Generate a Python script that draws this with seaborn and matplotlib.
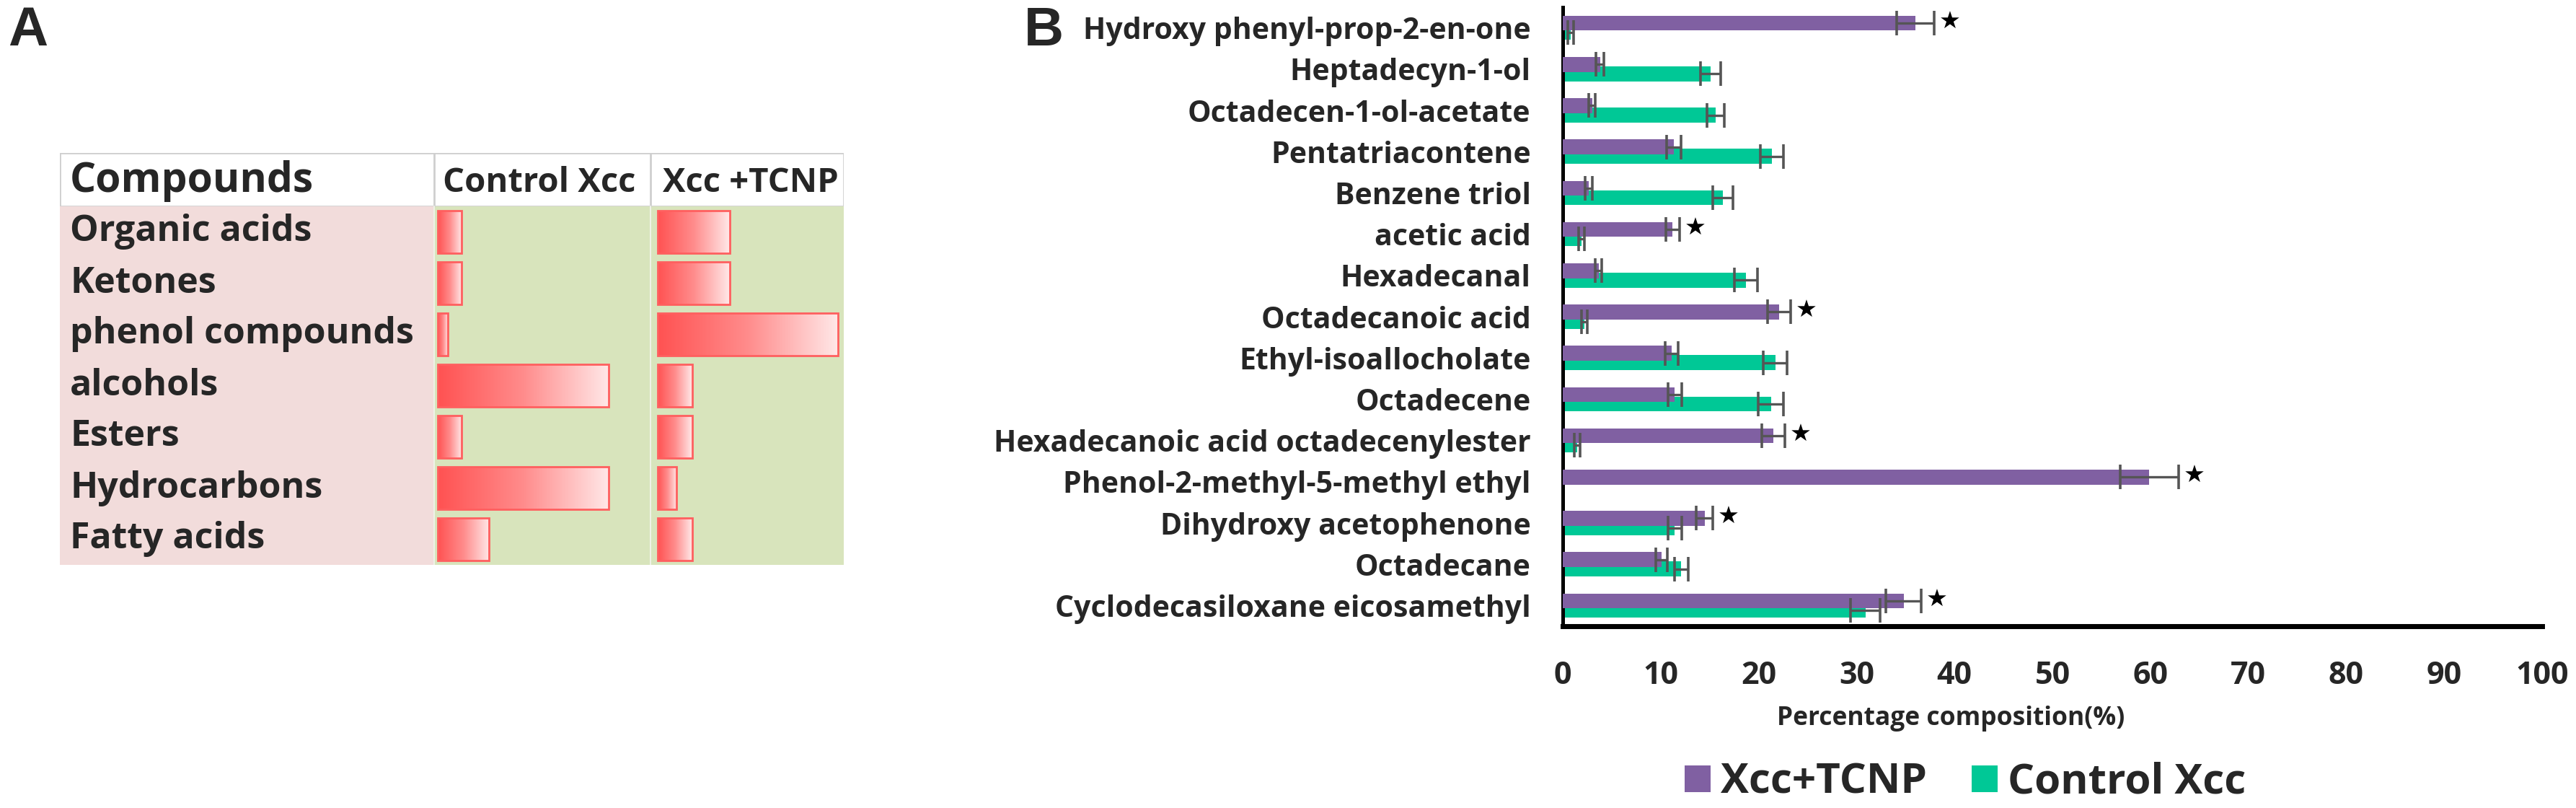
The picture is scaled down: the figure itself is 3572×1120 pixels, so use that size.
import numpy as np
import pandas as pd
import matplotlib
matplotlib.use("Agg")
import matplotlib.pyplot as plt
import seaborn as sns
from matplotlib.colors import LinearSegmentedColormap
from matplotlib.patches import Rectangle, Patch

# ---------------- data: panel A (relative data-bar lengths per column) ----------------
classes = ["Organic acids", "Ketones", "phenol compounds", "alcohols",
           "Esters", "Hydrocarbons", "Fatty acids"]
control_rel = [14, 14, 6, 100, 14, 100, 30]
tcnp_rel = [40, 40, 100, 19, 19, 10.5, 19]
table_headers = ["Compounds", "Control Xcc", "Xcc +TCNP"]

# ---------------- data: panel B ----------------
compounds = [
    "Hydroxy phenyl-prop-2-en-one",
    "Heptadecyn-1-ol",
    "Octadecen-1-ol-acetate",
    "Pentatriacontene",
    "Benzene triol",
    "acetic acid",
    "Hexadecanal",
    "Octadecanoic acid",
    "Ethyl-isoallocholate",
    "Octadecene",
    "Hexadecanoic acid octadecenylester",
    "Phenol-2-methyl-5-methyl ethyl",
    "Dihydroxy acetophenone",
    "Octadecane",
    "Cyclodecasiloxane eicosamethyl",
]
tcnp_vals = [36.0, 3.8, 3.0, 11.35, 2.65, 11.2, 3.65, 22.1, 11.1, 11.45, 21.5, 59.9, 14.5, 10.1, 34.8]
tcnp_err = [1.9, 0.4, 0.35, 0.75, 0.35, 0.7, 0.35, 1.2, 0.65, 0.7, 1.15, 3.0, 0.85, 0.6, 1.8]
ctrl_vals = [0.8, 15.1, 15.6, 21.35, 16.35, 1.9, 18.7, 2.2, 21.7, 21.25, 1.5, 0.0, 11.45, 12.1, 30.9]
ctrl_err = [0.3, 1.0, 0.9, 1.15, 1.0, 0.3, 1.15, 0.3, 1.2, 1.3, 0.3, 0.0, 0.7, 0.7, 1.5]
significant = [True, False, False, False, False, True, False, True, False, False,
               True, True, True, False, True]
group_names = ["Xcc+TCNP", "Control Xcc"]
x_ticks = list(range(0, 101, 10))
x_label = "Percentage composition(%)"

# ---------------- style ----------------
sns.set_style("white")
plt.rcParams["font.family"] = ["Open Sans", "DejaVu Sans"]

PURPLE = "#8060a2"
GREEN = "#00c896"
ERR = "#555555"

W, H = 3572, 1120
fig = plt.figure(figsize=(W / 100, H / 100), dpi=100)


def rect(x0, y0, x1, y1):
    return [x0 / W, 1 - y1 / H, (x1 - x0) / W, (y1 - y0) / H]


# ======================= Panel A =======================
fig.text(11 / W, 1 - 8 / H, "A", fontsize=55, fontweight="bold", va="top", ha="left",
         family=["Liberation Sans", "DejaVu Sans"])

T_L, T_T, T_R, T_B = 83, 212, 1170, 783
HDR_B = 286
C1, C2 = 602, 902
row_h = (T_B - HDR_B) / len(classes)

ax_tab = fig.add_axes(rect(T_L, T_T, T_R, T_B))
ax_tab.set_xlim(T_L, T_R)
ax_tab.set_ylim(T_B, T_T)
ax_tab.axis("off")
ax_tab.add_patch(Rectangle((T_L, T_T), T_R - T_L, HDR_B - T_T, fc="white", ec="#cfcfcf", lw=2))
ax_tab.add_patch(Rectangle((T_L, HDR_B), C1 - T_L, T_B - HDR_B, fc="#f2dcdb", ec="none"))
ax_tab.add_patch(Rectangle((C1, HDR_B), T_R - C1, T_B - HDR_B, fc="#d8e4bc", ec="none"))
for cx in (C1, C2):
    ax_tab.plot([cx, cx], [T_T, HDR_B], color="#cfcfcf", lw=2)
    ax_tab.plot([cx, cx], [HDR_B, T_B], color="#eef2e6", lw=1.5)

hdr_y = (T_T + HDR_B) / 2
ax_tab.text(97, hdr_y + 2, table_headers[0], fontsize=41, fontweight="bold", va="center", ha="left")
ax_tab.text(614, hdr_y + 4, table_headers[1], fontsize=34, fontweight="bold", va="center", ha="left")
ax_tab.text(919, hdr_y + 4, table_headers[2], fontsize=34, fontweight="bold", va="center", ha="left")
for i, name in enumerate(classes):
    ax_tab.text(97, HDR_B + row_h * (i + 0.5), name, fontsize=36, fontweight="bold",
                va="center", ha="left")

cmap = LinearSegmentedColormap.from_list("redgrad", ["#ff5252", "#ff8c8c", "#ffe8e8"])
grad = np.linspace(0, 1, 256).reshape(1, -1)


def data_bars(ax, vals, start_px, col_l, col_r, px_per_unit):
    dfa = pd.DataFrame({"cls": classes, "v": vals})
    sns.barplot(data=dfa, x="v", y="cls", order=classes, ax=ax, width=0.83,
                color="#ff5252", saturation=1, errorbar=None)
    xl = (-(start_px - col_l) / px_per_unit, (col_r - start_px) / px_per_unit)
    for p in ax.patches:
        x0, y0, w, h = p.get_x(), p.get_y(), p.get_width(), p.get_height()
        ax.imshow(grad, extent=[x0, x0 + w, y0 + h, y0], cmap=cmap, aspect="auto",
                  zorder=2, interpolation="bilinear")
        p.set_facecolor("none")
        p.set_edgecolor("#ff5f5f")
        p.set_linewidth(2)
        p.set_zorder(3)
    ax.set_xlim(*xl)
    ax.set_ylim(len(classes) - 0.5, -0.5)
    ax.axis("off")
    ax.patch.set_alpha(0)


ax_c = fig.add_axes(rect(C1, HDR_B, C2 + 3, T_B))
data_bars(ax_c, control_rel, 607, C1, C2 + 3, 2.37)
ax_t = fig.add_axes(rect(C2, HDR_B, T_R, T_B))
data_bars(ax_t, tcnp_rel, 912, C2, T_R, 2.5)

# ======================= Panel B =======================
fig.text(1420 / W, 1 - 8 / H, "B", fontsize=55, fontweight="bold", va="top", ha="left",
         family=["Liberation Sans", "DejaVu Sans"])

AX_L, AX_T, AX_R, AX_B = 2167, 10, 3525, 868
axB = fig.add_axes(rect(AX_L, AX_T, AX_R, AX_B))

dfB = pd.DataFrame({
    "compound": compounds * 2,
    "group": [group_names[0]] * len(compounds) + [group_names[1]] * len(compounds),
    "value": tcnp_vals + ctrl_vals,
})
sns.barplot(data=dfB, y="compound", x="value", hue="group", order=compounds,
            hue_order=group_names, palette=[PURPLE, GREEN], width=0.46,
            saturation=1, errorbar=None, ax=axB, legend=False)

bar_h = 0.36
centers = {}
for gi, cont in enumerate(axB.containers[:2]):
    cs = []
    for p in cont.patches:
        c = p.get_y() + p.get_height() / 2
        p.set_y(c - bar_h / 2)
        p.set_height(bar_h)
        p.set_zorder(3 if gi == 0 else 2)
        p.set_edgecolor("none")
        cs.append(c)
    centers[gi] = cs

for gi, (vals, errs) in enumerate([(tcnp_vals, tcnp_err), (ctrl_vals, ctrl_err)]):
    ys = [centers[gi][i] for i in range(len(vals)) if vals[i] > 0]
    xs = [vals[i] for i in range(len(vals)) if vals[i] > 0]
    es = [errs[i] for i in range(len(vals)) if vals[i] > 0]
    axB.errorbar(xs, ys, xerr=es, fmt="none", ecolor=ERR, elinewidth=2.4,
                 capsize=12, capthick=2.6, zorder=5)

for i, sig in enumerate(significant):
    if sig:
        axB.text(tcnp_vals[i] + tcnp_err[i] + 1.6, centers[0][i] - 0.03, "\u2605",
                 ha="center", va="center", fontsize=24, color="black",
                 family=["DejaVu Sans"], zorder=6)

axB.set_xlim(0, 100)
axB.set_ylim(len(compounds) - 0.5, -0.5)
axB.set_xticks(x_ticks)
axB.set_xticklabels([str(t) for t in x_ticks])
axB.tick_params(axis="x", length=0, pad=34, labelsize=31)
axB.tick_params(axis="y", length=0, pad=32, labelsize=29.5)
for lab in axB.get_xticklabels() + axB.get_yticklabels():
    lab.set_fontweight("bold")
axB.set_ylabel("")
axB.set_xlabel(x_label, fontsize=25.5, fontweight="bold")
axB.xaxis.set_label_coords((2705 - AX_L) / (AX_R - AX_L), -(996 - AX_B) / (AX_B - AX_T))
axB.xaxis.label.set_va("center")
sns.despine(ax=axB, top=True, right=True)
axB.spines["left"].set_linewidth(3.6)
axB.spines["bottom"].set_linewidth(5)
axB.spines["left"].set_color("black")
axB.spines["bottom"].set_color("black")
axB.grid(False)

handles = [Patch(facecolor=PURPLE, edgecolor="none"), Patch(facecolor=GREEN, edgecolor="none")]
fig.legend(handles, group_names, loc="center", bbox_to_anchor=(2725 / W, 1 - 1085 / H),
           ncol=2, frameon=False, prop={"size": 42, "weight": "bold"},
           handlelength=0.62, handleheight=0.62, handletextpad=0.25, columnspacing=1.05)

fig.savefig("out.png", dpi=100)
